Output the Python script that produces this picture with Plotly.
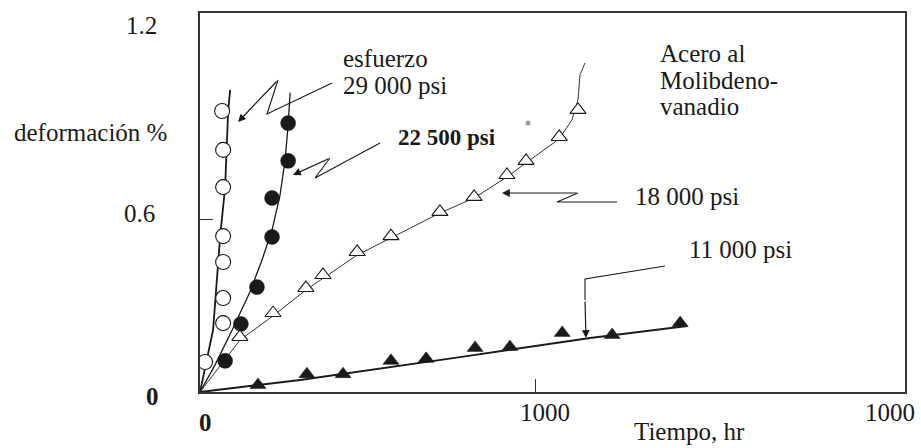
import plotly.graph_objects as go

# ---------------- data ----------------
# esfuerzo 29 000 psi  (open circles + fitted line)
t_29000 = [15, 69, 69, 69, 69, 69, 69, 66]
d_29000 = [0.104, 0.239, 0.326, 0.451, 0.541, 0.711, 0.840, 0.975]
line_t_29000 = [0, 39, 60, 75, 84, 90]
line_d_29000 = [0, 0.215, 0.538, 0.711, 0.975, 1.048]

# 22 500 psi (filled circles)
t_22500 = [75, 122, 170, 215, 215, 263, 263]
d_22500 = [0.108, 0.236, 0.364, 0.538, 0.673, 0.802, 0.933]
line_t_22500 = [0, 45, 96, 149, 185, 215, 239, 254, 263, 269]
line_d_22500 = [0, 0.094, 0.215, 0.347, 0.458, 0.562, 0.684, 0.805, 0.926, 1.038]

# 18 000 psi (open triangles)
t_18000 = [119, 218, 316, 367, 469, 570, 716, 818, 916, 973, 1072, 1128]
d_18000 = [0.191, 0.274, 0.361, 0.406, 0.486, 0.541, 0.625, 0.677, 0.753, 0.802, 0.885, 0.979]
line_t_18000 = [0, 119, 218, 316, 469, 570, 716, 818, 916, 973, 1072, 1110, 1128, 1134, 1149]
line_d_18000 = [0, 0.180, 0.264, 0.354, 0.475, 0.534, 0.621, 0.673, 0.746, 0.795, 0.878, 0.944, 1.013, 1.100, 1.142]

# 11 000 psi (filled triangles)
t_11000 = [173, 319, 427, 570, 675, 821, 925, 1081, 1230, 1433]
d_11000 = [0.024, 0.062, 0.062, 0.108, 0.115, 0.153, 0.156, 0.205, 0.198, 0.239]
line_t_11000 = [0, 299, 776, 1164, 1454]
line_d_11000 = [0, 0.042, 0.121, 0.187, 0.229]

x_range = [0, 2104]
y_range = [0, 1.315]

y_tick_labels = ["1.2", "0.6", "0"]
x_tick_labels = ["0", "1000", "1000"]
series_labels = ["esfuerzo", "29 000 psi", "22 500 psi", "18 000 psi", "11 000 psi"]
note_lines = ["Acero al", "Molibdeno-", "vanadio"]
y_title = "deformación %"
x_title = "Tiempo, hr"

# ---------------- layout geometry ----------------
W, H = 921, 448
L, R, T, B = 200, 16, 13, 56
PW, PH = W - L - R, H - T - B
FONT = "Liberation Serif"
INK = "#1a1a1a"
FS = 25


def pp(x, y):
    """pixel position -> paper coordinates (decorations only)"""
    return (x - L) / PW, (H - B - y) / PH


fig = go.Figure()

# fitted curves
fig.add_trace(go.Scatter(x=line_t_29000, y=line_d_29000, mode="lines",
                         line=dict(color=INK, width=1.8), hoverinfo="skip"))
fig.add_trace(go.Scatter(x=line_t_22500, y=line_d_22500, mode="lines",
                         line=dict(color=INK, width=1.3), hoverinfo="skip"))
fig.add_trace(go.Scatter(x=line_t_18000, y=line_d_18000, mode="lines",
                         line=dict(color="#333", width=1.0), hoverinfo="skip"))
fig.add_trace(go.Scatter(x=line_t_11000, y=line_d_11000, mode="lines",
                         line=dict(color=INK, width=2.0), hoverinfo="skip"))

# data markers
fig.add_trace(go.Scatter(x=t_29000, y=d_29000, mode="markers", name="29 000 psi",
                         marker=dict(symbol="circle", size=15, color="white",
                                     line=dict(color=INK, width=1.1))))
fig.add_trace(go.Scatter(x=t_22500, y=d_22500, mode="markers", name="22 500 psi",
                         marker=dict(symbol="circle", size=15, color=INK,
                                     line=dict(color=INK, width=0.5))))
fig.add_trace(go.Scatter(x=t_18000, y=d_18000, mode="markers", name="18 000 psi",
                         marker=dict(symbol="triangle-up", size=14, color="white",
                                     line=dict(color=INK, width=1.1))))
fig.add_trace(go.Scatter(x=t_11000, y=d_11000, mode="markers", name="11 000 psi",
                         marker=dict(symbol="triangle-up", size=14, color=INK,
                                     line=dict(color=INK, width=0.5))))

annotations = []
shapes = []


def text(s, x, y, xanchor="left", size=FS, bold=False):
    px_, py_ = pp(x, y)
    annotations.append(dict(text=f"<b>{s}</b>" if bold else s, x=px_, y=py_,
                            xref="paper", yref="paper",
                            xanchor=xanchor, yanchor="middle", showarrow=False,
                            font=dict(family=FONT, size=size, color=INK)))


def leader(points, tip):
    """zigzag leader line (pixel points) ending in an arrowhead at tip"""
    path = ""
    for i, (x, y) in enumerate(points):
        a, b = pp(x, y)
        path += ("M" if i == 0 else "L") + f"{a},{b} "
    shapes.append(dict(type="path", path=path.strip(), xref="paper", yref="paper",
                       line=dict(color=INK, width=1.1)))
    lx, ly = points[-1]
    tx, ty = tip
    a, b = pp(tx, ty)
    annotations.append(dict(text="", x=a, y=b, xref="paper", yref="paper",
                            ax=lx - tx, ay=ly - ty, showarrow=True,
                            arrowhead=2, arrowsize=1.3, arrowwidth=1.2,
                            arrowcolor=INK))


# tick labels
text(y_tick_labels[0], 141, 25, "center")
text(y_tick_labels[1], 139, 213, "center")
text(y_tick_labels[2], 152, 396, "center", bold=True)
text(x_tick_labels[0], 205, 422, "center", bold=True)
text(x_tick_labels[1], 545, 412, "center")
text(x_tick_labels[2], 890, 412, "center")

# axis titles
text(y_title, 12, 132)
text(x_title, 689, 431, "center")

# series labels
text(series_labels[0], 341, 58)
text(series_labels[1], 341, 85)
text(series_labels[2], 396, 137, bold=True, size=23)
text(series_labels[3], 633, 197)
text(series_labels[4], 687, 249)

# material note
text(note_lines[0], 658, 53)
text(note_lines[1], 658, 80)
text(note_lines[2], 658, 106)

# leaders
leader([(332, 83), (267, 114), (278, 80)], (238, 122))
leader([(380, 143), (315, 178), (330, 158)], (293, 175))
leader([(617, 202), (557, 202), (578, 193)], (502, 193))
leader([(665, 266), (585, 279), (585, 300)], (586, 338))

# scan speck
sx, sy = pp(528, 123)
dx, dy = 2.5 / PW, 2.5 / PH
shapes.append(dict(type="circle", xref="paper", yref="paper",
                   x0=sx - dx, x1=sx + dx, y0=sy - dy, y1=sy + dy,
                   fillcolor="#9a9a9a", line=dict(width=0)))

fig.update_layout(
    width=W, height=H,
    margin=dict(l=L, r=R, t=T, b=B),
    paper_bgcolor="white", plot_bgcolor="white",
    showlegend=False,
    annotations=annotations,
    shapes=shapes,
    xaxis=dict(range=x_range, showgrid=False, zeroline=False,
               showline=True, mirror=True, linecolor="#333", linewidth=1.5,
               ticks="inside", tickvals=[1000], ticklen=13, tickwidth=1.2,
               tickcolor="#333", showticklabels=False),
    yaxis=dict(range=y_range, showgrid=False, zeroline=False,
               showline=True, mirror=True, linecolor="#333", linewidth=1.5,
               ticks="inside", tickvals=[0.6], ticklen=13, tickwidth=1.2,
               tickcolor="#333", showticklabels=False),
)

fig.write_html("out.html", config={"displayModeBar": False},
               post_script="document.body.style.margin='0';")
